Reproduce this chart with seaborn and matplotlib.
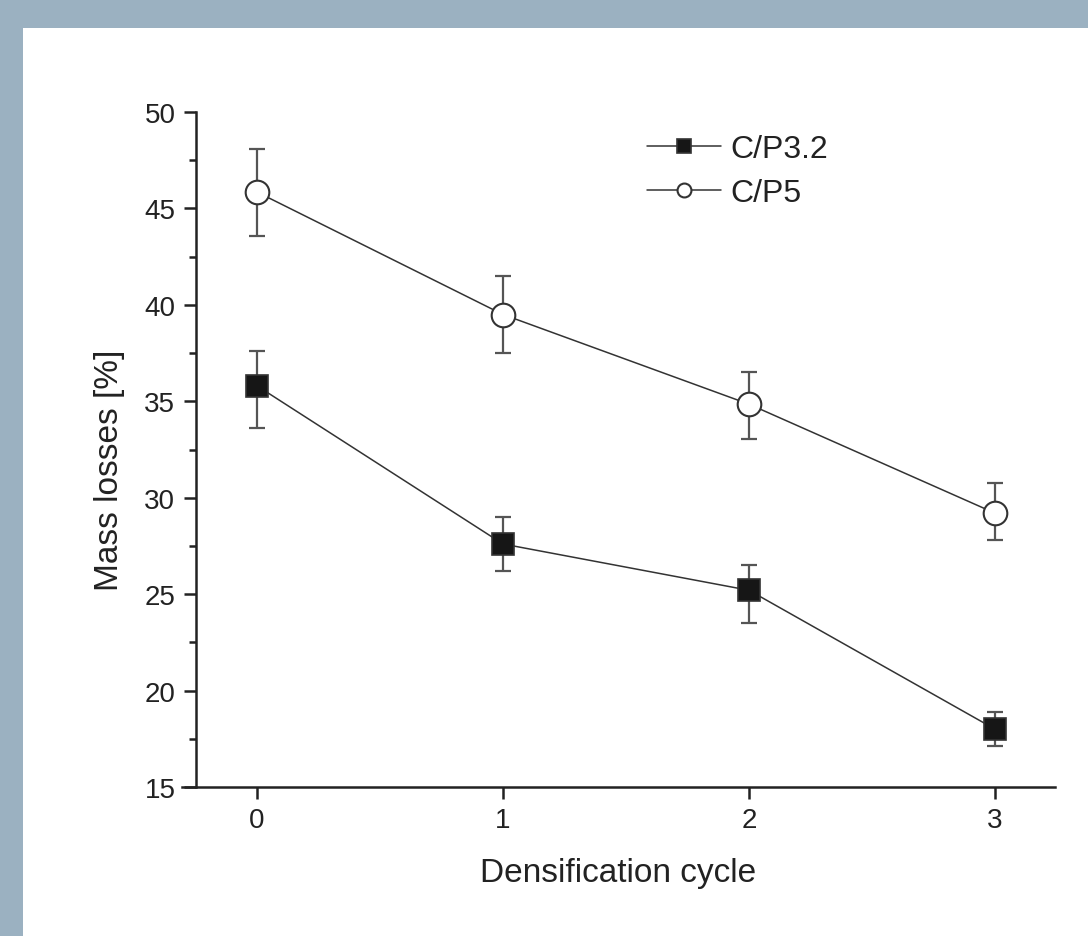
import numpy as np
import pandas as pd
import matplotlib
matplotlib.use('Agg')
import matplotlib.pyplot as plt
from matplotlib.patches import Rectangle
from matplotlib.ticker import AutoMinorLocator
import seaborn as sns

# data
cycles = [0, 1, 2, 3]
cp32_loss = [35.8, 27.6, 25.2, 18.0]
cp32_err_low = [2.2, 1.4, 1.7, 0.85]
cp32_err_high = [1.8, 1.4, 1.3, 0.9]
cp5_loss = [45.85, 39.5, 34.85, 29.2]
cp5_err_low = [2.3, 2.0, 1.8, 1.4]
cp5_err_high = [2.25, 2.0, 1.65, 1.55]

df = pd.DataFrame({
    'cycle': cycles * 2,
    'loss': cp32_loss + cp5_loss,
    'sample': ['C/P3.2'] * 4 + ['C/P5'] * 4,
})

sns.set_style('ticks')
plt.rcParams['font.family'] = ['Liberation Sans', 'DejaVu Sans']
plt.rcParams['text.color'] = '#222222'
plt.rcParams['axes.labelcolor'] = '#222222'
plt.rcParams['xtick.color'] = '#222222'
plt.rcParams['ytick.color'] = '#222222'

fig = plt.figure(figsize=(10.88, 9.37), dpi=100)
fig.patch.set_facecolor('#9bb1c1')
fig.patches.append(Rectangle((23 / 1088, 0), 1 - 23 / 1088, 908 / 937,
                             transform=fig.transFigure, facecolor='white',
                             edgecolor='none', zorder=-1))
ax = fig.add_axes([182 / 1088, 149 / 937, 873 / 1088, 675 / 937])
ax.set_facecolor('none')

# error bars first so markers sit on top
ax.errorbar(cycles, cp32_loss, yerr=[cp32_err_low, cp32_err_high], fmt='none',
            ecolor='#555555', elinewidth=1.6, capsize=6, capthick=1.6, zorder=2)
ax.errorbar(cycles, cp5_loss, yerr=[cp5_err_low, cp5_err_high], fmt='none',
            ecolor='#555555', elinewidth=1.6, capsize=6, capthick=1.6, zorder=2)

sub32 = df[df['sample'] == 'C/P3.2']
sub5 = df[df['sample'] == 'C/P5']
sns.lineplot(data=sub32, x='cycle', y='loss', ax=ax, color='#333333', linewidth=1.1,
             marker='s', markersize=15.5, markerfacecolor='#161616',
             markeredgecolor='#333333', markeredgewidth=1.2, label='C/P3.2', zorder=3)
sns.lineplot(data=sub5, x='cycle', y='loss', ax=ax, color='#333333', linewidth=1.1,
             marker='o', markersize=17, markerfacecolor='white',
             markeredgecolor='#333333', markeredgewidth=1.5, label='C/P5', zorder=3)

# axes styling
ax.set_xlim(-0.305, 3.244)
ax.set_ylim(15, 50)
ax.set_xticks(cycles)
ax.set_yticks(np.arange(15, 51, 5))
ax.yaxis.set_minor_locator(AutoMinorLocator(2))
ax.spines['left'].set_position(('data', -0.25))
for s in ['top', 'right']:
    ax.spines[s].set_visible(False)
for s in ['left', 'bottom']:
    ax.spines[s].set_linewidth(1.8)
    ax.spines[s].set_color('#222222')
ax.tick_params(axis='both', which='major', direction='out', length=8.5, width=1.8,
               labelsize=20, pad=6)
ax.tick_params(axis='y', which='minor', direction='out', length=5, width=1.8)
ax.set_xlabel('Densification cycle', fontsize=24, labelpad=17)
ax.set_ylabel('Mass losses [%]', fontsize=24)
ax.yaxis.set_label_coords(-0.065, 0.47)

leg = ax.legend(loc='upper left', bbox_to_anchor=(0.5, 1.01), frameon=False,
                fontsize=23, handlelength=2.3, handletextpad=0.3, labelspacing=0.45)
for h in leg.legend_handles:
    h.set_markersize(10)

fig.savefig('out.png', dpi=100, facecolor=fig.get_facecolor())
